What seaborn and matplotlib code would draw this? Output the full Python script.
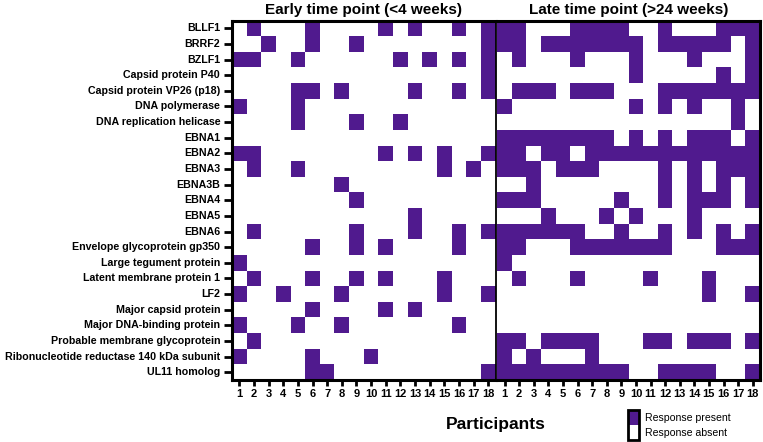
import numpy as np
import pandas as pd
import matplotlib
matplotlib.use("Agg")
import matplotlib.pyplot as plt
import seaborn as sns
from matplotlib.colors import ListedColormap

# rows of the heatmap
proteins = [
    "BLLF1", "BRRF2", "BZLF1", "Capsid protein P40", "Capsid protein VP26 (p18)",
    "DNA polymerase", "DNA replication helicase", "EBNA1", "EBNA2", "EBNA3",
    "EBNA3B", "EBNA4", "EBNA5", "EBNA6", "Envelope glycoprotein gp350",
    "Large tegument protein", "Latent membrane protein 1", "LF2",
    "Major capsid protein", "Major DNA-binding protein",
    "Probable membrane glycoprotein", "Ribonucleotide reductase 140 kDa subunit",
    "UL11 homolog",
]
participants = ["1", "2", "3", "4", "5", "6", "7", "8", "9", "10",
                "11", "12", "13", "14", "15", "16", "17", "18"]

# participants with a response, one list per protein
early_hits = [
    [2, 6, 11, 13, 16, 18],
    [3, 6, 9, 18],
    [1, 2, 5, 12, 14, 16, 18],
    [18],
    [5, 6, 8, 13, 16, 18],
    [1, 5],
    [5, 9, 12],
    [],
    [1, 2, 11, 13, 15, 18],
    [2, 5, 15, 17],
    [8],
    [9],
    [13],
    [2, 9, 13, 16, 18],
    [6, 9, 11, 16],
    [1],
    [2, 6, 9, 11, 15],
    [1, 4, 8, 15, 18],
    [6, 11, 13],
    [1, 5, 8, 16],
    [2],
    [1, 6, 10],
    [6, 7, 18],
]
late_hits = [
    [1, 2, 6, 7, 8, 9, 12, 16, 17, 18],
    [1, 2, 4, 5, 6, 7, 8, 9, 10, 12, 13, 14, 15, 16, 18],
    [2, 6, 10, 14, 18],
    [10, 16, 18],
    [2, 3, 4, 6, 7, 8, 12, 13, 14, 15, 16, 17, 18],
    [1, 10, 12, 14, 17],
    [17],
    [1, 2, 3, 4, 5, 6, 7, 8, 10, 12, 14, 15, 16, 18],
    [1, 2, 4, 5, 7, 8, 9, 10, 11, 12, 13, 14, 15, 16, 17, 18],
    [1, 2, 3, 5, 6, 7, 12, 14, 16, 17, 18],
    [3, 12, 14, 16, 18],
    [1, 2, 3, 9, 12, 14, 15, 16, 18],
    [4, 8, 10, 14],
    [1, 2, 3, 4, 5, 6, 9, 12, 14, 16, 18],
    [1, 2, 6, 7, 8, 9, 10, 11, 12, 16, 17, 18],
    [1],
    [2, 6, 11, 15],
    [15, 18],
    [],
    [],
    [1, 2, 4, 5, 6, 7, 11, 12, 14, 15, 16, 18],
    [1, 3, 7],
    [1, 2, 3, 4, 5, 6, 7, 8, 9, 12, 13, 14, 15, 18],
]


def to_frame(hits):
    mat = np.zeros((len(proteins), len(participants)))
    for i, row in enumerate(hits):
        for p in row:
            mat[i, p - 1] = 1
    return pd.DataFrame(mat, index=proteins, columns=participants)


early = to_frame(early_hits)
late = to_frame(late_hits)

sns.set_style("white")
plt.rcParams['font.family'] = ['Liberation Sans', 'DejaVu Sans']
plt.rcParams['text.color'] = 'black'
plt.rcParams['xtick.color'] = 'black'
plt.rcParams['ytick.color'] = 'black'

purple = "#501a8e"
cmap = ListedColormap(["white", purple])

W, H = 763, 442
fig = plt.figure(figsize=(W / 100, H / 100), dpi=100)


def box(x0, y0, x1, y1):
    return [x0 / W, 1 - y1 / H, (x1 - x0) / W, (y1 - y0) / H]


ax1 = fig.add_axes(box(232, 20.5, 495.5, 380))
ax2 = fig.add_axes(box(497.3, 20.5, 760, 380))
cax = fig.add_axes(box(627.5, 409.5, 639, 440))

sns.heatmap(early, ax=ax1, cmap=cmap, vmin=0, vmax=1, cbar=False,
            xticklabels=participants, yticklabels=proteins)
sns.heatmap(late, ax=ax2, cmap=cmap, vmin=0, vmax=1, cbar_ax=cax,
            xticklabels=participants, yticklabels=False)

for ax in (ax1, ax2):
    for s in ax.spines.values():
        s.set_visible(True)
        s.set_linewidth(2.2)
        s.set_color("black")
    ax.set_xlabel("")
    ax.set_ylabel("")
    ax.tick_params(axis="x", bottom=True, length=4.5, width=2, pad=2, labelsize=8)
    ax.set_xticklabels(participants, rotation=0, fontweight="bold")

ax1.spines["right"].set_linewidth(1.3)
ax2.spines["left"].set_visible(False)

ax1.tick_params(axis="y", left=True, length=5.5, width=2, pad=3, labelsize=7.7)
ax1.set_yticklabels(proteins, rotation=0, fontweight="bold")

ax1.set_title("Early time point (<4 weeks)", fontsize=11, fontweight="bold", pad=5)
ax2.set_title("Late time point (>24 weeks)", fontsize=11, fontweight="bold", pad=5)

fig.text(496 / W, 1 - 425 / H, "Participants", ha="center", va="center",
         fontsize=12.5, fontweight="bold")

# legend drawn as the heatmap colour bar
cbar = ax2.collections[0].colorbar
cbar.set_ticks([0.25, 0.75])
cbar.set_ticklabels(["Response absent", "Response present"])
cbar.outline.set_linewidth(2)
cbar.outline.set_edgecolor("black")
cax.tick_params(which="major", length=0, labelsize=7.6, pad=4)
cax.yaxis.set_ticks([0.5], minor=True)
cax.tick_params(which="minor", left=True, right=True, direction="in",
                length=2.5, width=1.5, color="black")

fig.savefig("out.png", dpi=100)
